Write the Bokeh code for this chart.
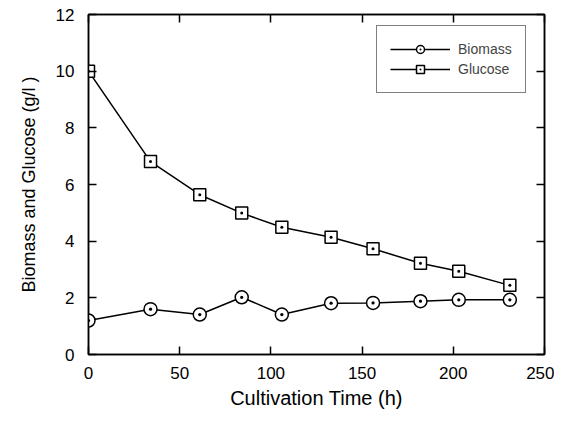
from bokeh.plotting import figure
from bokeh.models import LinearAxis, Legend, LegendItem, FixedTicker, Range1d
from bokeh.embed import file_html
from bokeh.resources import INLINE

time_h = [0, 34, 61, 84, 106, 133, 156, 182, 203, 231]
biomass = [1.2, 1.6, 1.41, 2.02, 1.41, 1.81, 1.82, 1.88, 1.93, 1.93]
glucose = [10.0, 6.81, 5.64, 4.99, 4.49, 4.14, 3.73, 3.22, 2.94, 2.44]
x_ticks = [0, 50, 100, 150, 200, 250]
y_ticks = [0, 2, 4, 6, 8, 10, 12]

FONT = "Liberation Sans"

p = figure(width=554, height=413, output_backend="svg", toolbar_location=None,
           x_range=Range1d(0, 250), y_range=Range1d(0, 12),
           min_border_left=88, min_border_right=10, min_border_top=14, min_border_bottom=59,
           x_axis_label="Cultivation Time (h)", y_axis_label="Biomass and Glucose (g/l )")
p.grid.visible = False
p.outline_line_color = "black"
p.outline_line_width = 1.5
p.background_fill_color = "white"

def style_axis(ax, ticks, show_labels=True):
    ax.axis_line_color = "black"
    ax.axis_line_width = 1.5
    ax.major_tick_in = 8
    ax.major_tick_out = 0
    ax.minor_tick_in = 0
    ax.minor_tick_out = 0
    ax.major_tick_line_width = 1.5
    ax.major_label_text_font = FONT
    ax.major_label_text_font_size = "17px"
    ax.major_label_text_color = "black"
    ax.axis_label_text_font = FONT
    ax.axis_label_text_font_style = "normal"
    ax.axis_label_text_color = "black"
    if not show_labels:
        ax.major_label_overrides = {t: "" for t in ticks}

p.xaxis.ticker = FixedTicker(ticks=x_ticks)
p.yaxis.ticker = FixedTicker(ticks=y_ticks)
style_axis(p.xaxis[0], x_ticks)
style_axis(p.yaxis[0], y_ticks)
p.xaxis[0].axis_label_text_font_size = "20px"
p.yaxis[0].axis_label_text_font_size = "18px"
p.xaxis[0].major_label_standoff = 12
p.yaxis[0].major_label_standoff = 14
p.xaxis[0].axis_label_standoff = 5
p.yaxis[0].axis_label_standoff = 14

top = LinearAxis(ticker=FixedTicker(ticks=x_ticks))
style_axis(top, x_ticks, show_labels=False)
p.add_layout(top, "above")
right = LinearAxis(ticker=FixedTicker(ticks=y_ticks))
style_axis(right, y_ticks, show_labels=False)
p.add_layout(right, "right")

bl = p.line(time_h, biomass, line_color="black", line_width=1.5)
bm = p.scatter(time_h, biomass, marker="circle_dot", size=13, fill_color="white",
               line_color="black", line_width=1.5)
gl = p.line(time_h, glucose, line_color="black", line_width=1.5)
gm = p.scatter(time_h, glucose, marker="square_dot", size=12, fill_color="white",
               line_color="black", line_width=1.5)

legend = Legend(items=[LegendItem(label="Biomass", renderers=[bl, bm]),
                       LegendItem(label="Glucose", renderers=[gl, gm])],
                location=(288, 261))
legend.glyph_width = 60
legend.glyph_height = 20
legend.label_height = 20
legend.spacing = 0
legend.padding = 13
legend.label_standoff = 8
legend.label_text_font = FONT
legend.label_text_font_size = "14px"
legend.border_line_color = "black"
legend.border_line_width = 1
legend.background_fill_alpha = 1
p.add_layout(legend)

open("out.html", "w").write(file_html(p, INLINE))
